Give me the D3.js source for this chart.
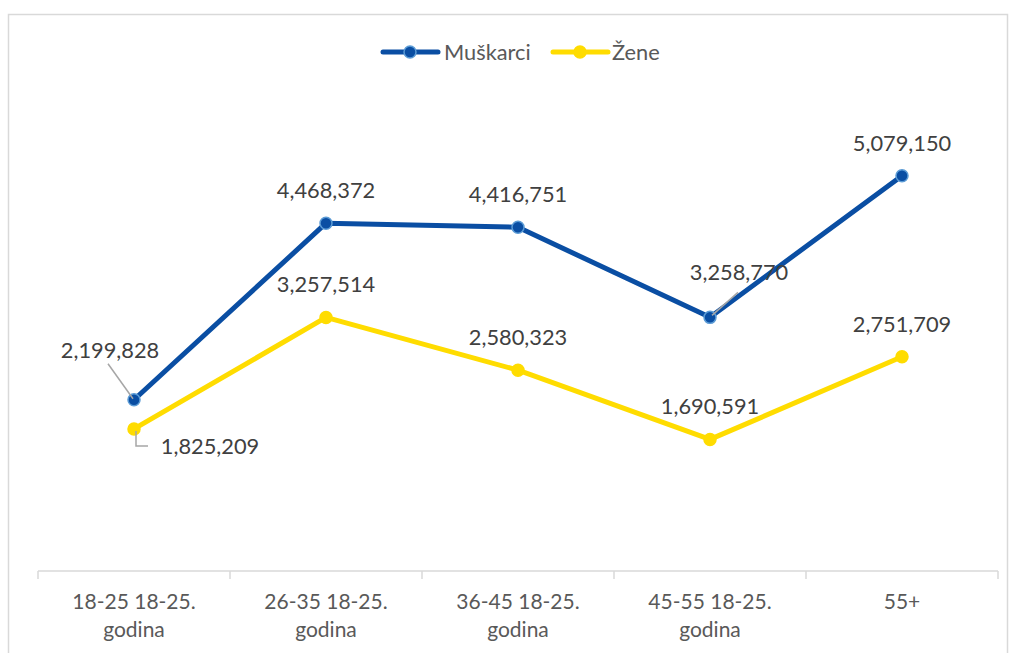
<!DOCTYPE html>
<html>
<head>
<meta charset="utf-8">
<script src="https://cdn.jsdelivr.net/npm/d3@7"></script>
<style>
  body { margin: 0; background: #fff; }
  text { font-family: Lato, "Open Sans", sans-serif; }
</style>
</head>
<body>
<svg width="1013" height="653"></svg>
<script>
// data
var categories = ['18-25 18-25. godina', '26-35 18-25. godina', '36-45 18-25. godina', '45-55 18-25. godina', '55+'];
var muskarci = [2199828, 4468372, 4416751, 3258770, 5079150];
var zene = [1825209, 3257514, 2580323, 1690591, 2751709];
var seriesNames = ['Muškarci', 'Žene'];

var blue = '#0a4ea3', blueRing = '#5b9bd5', yellow = '#ffdc00';

var svg = d3.select('svg');

// chart frame
svg.append('rect')
  .attr('x', 8.5).attr('y', 14.5)
  .attr('width', 999).attr('height', 660)
  .attr('fill', 'none').attr('stroke', '#d9d9d9').attr('stroke-width', 1.5);

var x = d3.scaleBand().domain(categories).range([38, 998]);
var y = d3.scaleLinear().domain([0, 6000000]).range([571, 104]);
function cx(d, i) { return x(categories[i]) + x.bandwidth() / 2; }

// x axis
var axis = svg.append('g').attr('transform', 'translate(0,571)');
axis.append('line').attr('x1', 38).attr('x2', 998)
  .attr('stroke', '#d9d9d9').attr('stroke-width', 1.5);
var edges = categories.map(function(c) { return x(c); }).concat([998]);
axis.selectAll('.tick').data(edges).enter().append('line')
  .attr('x1', function(d) { return d; }).attr('x2', function(d) { return d; })
  .attr('y1', 0).attr('y2', 8)
  .attr('stroke', '#d9d9d9').attr('stroke-width', 1.5);

var catLabels = svg.append('g').selectAll('text').data(categories).enter().append('text')
  .attr('x', function(d) { return x(d) + x.bandwidth() / 2; })
  .attr('y', 609)
  .attr('text-anchor', 'middle')
  .attr('font-size', 21)
  .attr('fill', '#595959');
catLabels.each(function(d) {
  var t = d3.select(this);
  var m = d.match(/^(.*) (godina)$/);
  if (m) {
    t.append('tspan').attr('x', t.attr('x')).text(m[1]);
    t.append('tspan').attr('x', t.attr('x')).attr('dy', 28).text(m[2]);
  } else {
    t.text(d);
  }
});

var line = d3.line().x(cx).y(function(d) { return y(d); });

// series
function drawSeries(vals, color, ring) {
  svg.append('path').datum(vals)
    .attr('d', line).attr('fill', 'none')
    .attr('stroke', color).attr('stroke-width', 5)
    .attr('stroke-linejoin', 'round');
  svg.append('g').selectAll('circle').data(vals).enter().append('circle')
    .attr('cx', cx).attr('cy', function(d) { return y(d); })
    .attr('r', 6).attr('fill', color)
    .attr('stroke', ring).attr('stroke-width', 1.5);
}
drawSeries(zene, yellow, yellow);
drawSeries(muskarci, blue, blueRing);

// data labels: offsets from point [dx, dy], leader lines where moved
var fmt = d3.format(',');
var muskOff = [[-24, -42], [0, -25], [0, -25], [29, -37], [0, -25]];
var zeneOff = [[76, 25], [0, -25], [0, -25], [0, -25], [0, -25]];

function labels(vals, offs) {
  svg.append('g').selectAll('text').data(vals).enter().append('text')
    .attr('x', function(d, i) { return cx(d, i) + offs[i][0]; })
    .attr('y', function(d, i) { return y(d) + offs[i][1]; })
    .attr('text-anchor', 'middle')
    .attr('font-size', 21.8)
    .attr('fill', '#404040')
    .text(function(d) { return fmt(d); });
}
labels(muskarci, muskOff);
labels(zene, zeneOff);

// leader lines
var leaders = svg.append('g').attr('fill', 'none').attr('stroke', '#a6a6a6').attr('stroke-width', 1.5);
var p0 = [cx(0, 0), y(muskarci[0])];
leaders.append('path').attr('d', 'M' + (p0[0] - 26) + ',' + (p0[1] - 36) + 'L' + (p0[0] - 1) + ',' + (p0[1] - 1));
var p3 = [cx(0, 3), y(muskarci[3])];
leaders.append('path').attr('d', 'M' + (p3[0] + 28) + ',' + (p3[1] - 25) + 'L' + (p3[0] + 2) + ',' + (p3[1] - 2));
var z0 = [cx(0, 0), y(zene[0])];
leaders.append('path').attr('d', 'M' + (z0[0] + 2) + ',' + (z0[1] + 2) + 'L' + (z0[0] + 2) + ',' + (z0[1] + 17) + 'L' + (z0[0] + 14) + ',' + (z0[1] + 17));

// legend
var legend = svg.append('g');
var legItems = [
  { name: seriesNames[0], color: blue, ring: blueRing, x: 383, tx: 444 },
  { name: seriesNames[1], color: yellow, ring: yellow, x: 553, tx: 612 }
];
legItems.forEach(function(it) {
  legend.append('line').attr('x1', it.x).attr('x2', it.x + 55)
    .attr('y1', 52).attr('y2', 52)
    .attr('stroke', it.color).attr('stroke-width', 5).attr('stroke-linecap', 'round');
  legend.append('circle').attr('cx', it.x + 27).attr('cy', 52).attr('r', 6)
    .attr('fill', it.color).attr('stroke', it.ring).attr('stroke-width', 1.5);
  legend.append('text').attr('x', it.tx).attr('y', 60)
    .attr('font-size', 21.8).attr('fill', '#595959').text(it.name);
});
</script>
</body>
</html>
